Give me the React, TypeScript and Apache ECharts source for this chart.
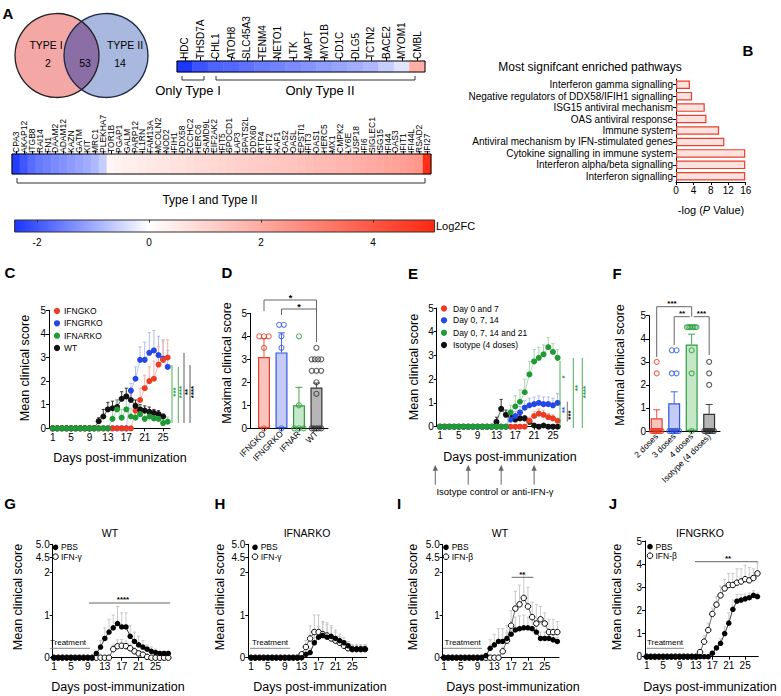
import React, { useEffect, useRef } from "react";
import * as echarts from "echarts";

const FONT = "'Liberation Sans', Arial, Helvetica, sans-serif";

/* ---------------- Panel A ---------------- */
const vennSets = ["TYPE I", "TYPE II"];
const vennCounts = [2, 53, 14];
const topGenes = ["HDC", "THSD7A", "CHL1", "ATOH8", "SLC45A3", "TENM4", "NETO1", "LTK", "MAPT", "MYO1B", "CD1C", "DLG5", "TCTN2", "BACE2", "MYOM1", "CMBL"];
const topLog2FC = [-2.4, -2.05, -1.85, -1.8, -1.68, -1.55, -1.48, -1.38, -1.28, -1.18, -1.08, -0.98, -0.85, -0.6, -0.32, 1.9];
const bottomGenes = ["CPA3", "AKAP12", "ITGB8", "RAI14", "FN1", "DAAM2", "ADAM12", "KAZN", "GATM", "KIT", "MRC1", "PLEKHA7", "TOR1B", "PGAP1", "GALM", "PARP12", "IL1RN", "FAM13A", "MCOLN2", "NOD2", "IFIH1", "DDX58", "ZCCHC2", "HERC6", "SAMD9L", "EIF2AK2", "IFIT5", "SPOCD1", "LAP3", "SPATS2L", "DDX60", "RTP4", "IFIT2", "XAF1", "OAS2", "OASL", "EPSTI1", "IFIT3", "OAS1", "HERC5", "MX1", "CMPK2", "LY6E", "USP18", "IFI6", "SIGLEC1", "ISG15", "IFI44", "OAS3", "IFIT1", "IFI44L", "RSAD2", "IFI27"];
const bottomLog2FC = [-2.3, -2.0, -1.75, -1.6, -1.5, -1.4, -1.3, -1.2, -1.1, -1.0, -0.85, -0.6,
  0.22, 0.3, 0.38, 0.41, 0.47, 0.52, 0.58, 0.61, 0.66, 0.72, 0.76, 0.83, 0.87, 0.93, 0.98, 1.02, 1.08, 1.12, 1.18, 1.22,
  1.27, 1.33, 1.38, 1.41, 1.47, 1.52, 1.58, 1.63, 1.66, 1.72, 1.78, 1.85, 1.93, 1.98, 2.06, 2.12, 2.2, 2.28, 2.36, 2.48, 4.95];
const colorbarTicks = [-2, 0, 2, 4];
const fcMin = -2.4;
const fcMax = 5.1;

/* ---------------- Panel B ---------------- */
const pathways = ["Interferon gamma signalling", "Negative regulators of DDX58/IFIH1 signalling", "ISG15 antiviral mechanism", "OAS antiviral response", "Immune system", "Antiviral mechanism by IFN-stimulated genes", "Cytokine signalling in immune system", "Interferon alpha/beta signalling", "Interferon signalling"];
const pathwayNegLogP = [3.2, 3.7, 6.6, 7.0, 9.9, 11.1, 15.9, 15.9, 15.9];

/* ---------------- Panel C ---------------- */
const daysC = [1, 2, 3, 4, 5, 6, 7, 8, 9, 10, 11, 12, 13, 14, 15, 16, 17, 18, 19, 20, 21, 22, 23, 24, 25, 26];
const dayTicks = [1, 5, 9, 13, 17, 21, 25];
const cNames = ["IFNGKO", "IFNGRKO", "IFNARKO", "WT"];
const cIFNGKO = [0, 0, 0, 0, 0, 0, 0, 0, 0, 0, 0, 0, 0, 0, 0, 0, 0, 0, 0.75, 1.2, 1.7, 2.0, 2.1, 2.7, 2.9, 3.0];
const cIFNGKOErr = [0, 0, 0, 0, 0, 0, 0, 0, 0, 0, 0, 0, 0, 0, 0, 0, 0, 0, 0.35, 0.5, 0.55, 0.6, 0.75, 0.75, 0.8, 0.75];
const cIFNGRKO = [0, 0, 0, 0, 0, 0, 0, 0, 0, 0, 0, 0, 0, 0, 0, 0, 0, 1.6, 2.1, 2.9, 2.9, 3.2, 3.3, 3.1, 2.95, 2.6];
const cIFNGRKOErr = [0, 0, 0, 0, 0, 0, 0, 0, 0, 0, 0, 0, 0, 0, 0, 0, 0, 0.3, 0.5, 0.55, 0.75, 0.85, 0.85, 0.8, 0.8, 0.7];
const cIFNARKO = [0, 0, 0, 0, 0, 0, 0, 0, 0, 0, 0, 0, 0, 0.4, 0.8, 0.45, 0.8, 0.5, 0.45, 0.6, 0.4, 0.5, 0.42, 0.4, 0.22, 0.28];
const cIFNARKOErr = [0, 0, 0, 0, 0, 0, 0, 0, 0, 0, 0, 0, 0, 0.35, 0.4, 0.35, 0.45, 0.35, 0.3, 0.35, 0.3, 0.3, 0.25, 0.25, 0.15, 0.2];
const cWT = [0, 0, 0, 0, 0, 0, 0, 0, 0, 0, 0.3, 0.5, 0.8, 0.85, 0.9, 1.25, 1.35, 1.2, 0.95, 0.8, 0.75, 0.7, 0.65, 0.6, 0.5, null];
const cWTErr = [0, 0, 0, 0, 0, 0, 0, 0, 0, 0, 0.15, 0.3, 0.3, 0.3, 0.3, 0.3, 0.35, 0.3, 0.25, 0.2, 0.2, 0.2, 0.15, 0.15, 0.1, 0];

/* ---------------- Panel D ---------------- */
const dGroups = ["IFNGKO", "IFNGRKO", "IFNAR", "WT"];
const dMeans = [3.1, 3.3, 1.0, 1.77];
const dErr = [0.8, 0.85, 0.78, 0.2];
const dPtsIFNGKO = [4, 4, 4, 3.5, 0];
const dPtsIFNGRKO = [4.5, 4.5, 4, 3.5, 0];
const dPtsIFNAR = [4, 1, 0, 0, 0];
const dPtsWT = [3.5, 3, 3, 3, 3, 2.5, 2.5, 2.5, 2, 1.5, 0, 0, 0, 0, 0];

/* ---------------- Panel E ---------------- */
const eNames = ["Day 0 and 7", "Day 0, 7, 14", "Day 0, 7, 14 and 21", "Isotype (4 doses)"];
const eDay07 = [0, 0, 0, 0, 0, 0, 0, 0, 0, 0, 0, 0, 0, 0, 0, 0, 0, 0, 0, 0.25, 0.45, 0.55, 0.5, 0.4, 0.35, 0.25];
const eDay07Err = [0, 0, 0, 0, 0, 0, 0, 0, 0, 0, 0, 0, 0, 0, 0, 0, 0, 0, 0, 0.15, 0.2, 0.2, 0.2, 0.15, 0.15, 0.1];
const eDay0714 = [0, 0, 0, 0, 0, 0, 0, 0, 0, 0, 0, 0, 0, 0, 0, 0.3, 0.45, 0.6, 0.8, 0.9, 0.95, 1.0, 0.95, 0.95, 0.9, 1.0];
const eDay0714Err = [0, 0, 0, 0, 0, 0, 0, 0, 0, 0, 0, 0, 0, 0, 0, 0.15, 0.2, 0.25, 0.3, 0.3, 0.3, 0.3, 0.3, 0.3, 0.3, 0.4];
const eDay071421 = [0, 0, 0, 0, 0, 0, 0, 0, 0, 0, 0, 0, 0, 0, 0, 0.6, 0.85, 1.05, 1.45, 2.2, 2.75, 2.9, 3.05, 3.35, 3.15, 2.9];
const eDay071421Err = [0, 0, 0, 0, 0, 0, 0, 0, 0, 0, 0, 0, 0, 0, 0, 0.3, 0.45, 0.5, 0.55, 0.55, 0.5, 0.45, 0.4, 0.4, 0.35, 0.35];
const eIsotype = [0, 0, 0, 0, 0, 0, 0, 0, 0, 0, 0, 0, 0.2, 0.75, 0.5, 0.4, 0.3, 0.35, 0.35, 0.2, 0.05, 0, 0.05, 0, 0, 0];
const eIsotypeErr = [0, 0, 0, 0, 0, 0, 0, 0, 0, 0, 0, 0, 0.2, 0.4, 0.2, 0.1, 0.1, 0.1, 0.1, 0.1, 0.05, 0, 0.05, 0, 0, 0];
const eTreatmentDays = [0, 7, 14, 21];

/* ---------------- Panel F ---------------- */
const fGroups = ["2 doses", "3 doses", "4 doses", "Isotype (4 doses)"];
const fMeans = [0.55, 1.2, 3.75, 0.75];
const fErr = [0.37, 0.5, 0.45, 0.4];
const fPts2 = [3, 2.5, 0, 0, 0, 0, 0, 0, 0, 0];
const fPts3 = [3.5, 3.5, 2.5, 2.5, 0, 0, 0, 0, 0, 0];
const fPts4 = [4.5, 4.5, 4.5, 4.5, 4.5, 4.5, 4.5, 3.5, 2.5, 0];
const fPtsIso = [3, 2.5, 2, 0, 0, 0, 0, 0, 0, 0];

/* ---------------- Panels G-J ---------------- */
const days28 = [1, 2, 3, 4, 5, 6, 7, 8, 9, 10, 11, 12, 13, 14, 15, 16, 17, 18, 19, 20, 21, 22, 23, 24, 25, 26, 27, 28];
const brokenTickValues = [0, 1, 2, 4.5, 5.0];
const brokenTickLabels = ["0", "1", "2", "4.5", "5.0"];
const gPBS = [0, 0, 0, 0, 0, 0, 0, 0, 0, 0, 0.1, 0.25, 0.45, 0.6, 0.7, 0.8, 0.72, 0.72, 0.5, 0.38, 0.3, 0.25, 0.2, 0.15, 0.12, 0.1, 0.1, 0.1];
const gPBSErr = [0, 0, 0, 0, 0, 0, 0, 0, 0, 0, 0.05, 0.15, 0.25, 0.3, 0.3, 0.4, 0.33, 0.33, 0.25, 0.22, 0.2, 0.15, 0.1, 0.1, 0.08, 0.05, 0.05, 0.05];
const gIFNg = [0, 0, 0, 0, 0, 0, 0, 0, 0, 0, 0, 0, 0, 0, 0.2, 0.27, 0.28, 0.27, 0.22, 0.15, 0.1, 0.07, 0.02, 0, 0, 0, 0, 0];
const gIFNgErr = [0, 0, 0, 0, 0, 0, 0, 0, 0, 0, 0, 0, 0, 0, 0.1, 0.15, 0.15, 0.12, 0.1, 0.08, 0.05, 0.05, 0, 0, 0, 0, 0, 0];
const hPBS = [0, 0, 0, 0, 0, 0, 0, 0, 0, 0, 0, 0, 0, 0.08, 0.12, 0.35, 0.48, 0.52, 0.48, 0.5, 0.45, 0.4, 0.35, 0.28, 0.2, 0.2, 0.2, 0.2];
const hPBSErr = [0, 0, 0, 0, 0, 0, 0, 0, 0, 0, 0, 0, 0, 0.05, 0.1, 0.2, 0.25, 0.3, 0.3, 0.25, 0.2, 0.15, 0.12, 0.1, 0.1, 0.1, 0.1, 0.1];
const hIFNg = [0, 0, 0, 0, 0, 0, 0, 0, 0, 0, 0, 0, 0.08, 0.25, 0.45, 0.6, 0.6, 0.55, 0.52, 0.45, 0.4, 0.35, 0.28, 0.22, 0.2, 0.2, 0.2, 0.2];
const hIFNgErr = [0, 0, 0, 0, 0, 0, 0, 0, 0, 0, 0, 0, 0.05, 0.15, 0.3, 0.4, 0.4, 0.3, 0.3, 0.25, 0.2, 0.15, 0.12, 0.1, 0.1, 0.1, 0.1, 0.1];
const iPBS = [0, 0, 0, 0, 0, 0, 0, 0, 0, 0, 0.05, 0.22, 0.3, 0.38, 0.38, 0.45, 0.55, 0.65, 0.68, 0.7, 0.7, 0.68, 0.6, 0.45, 0.45, 0.45, 0.42, 0.38];
const iPBSErr = [0, 0, 0, 0, 0, 0, 0, 0, 0, 0, 0.05, 0.2, 0.25, 0.3, 0.3, 0.3, 0.3, 0.3, 0.3, 0.3, 0.25, 0.2, 0.2, 0.15, 0.15, 0.12, 0.1, 0.1];
const iIFNb = [0, 0, 0, 0, 0, 0, 0, 0, 0, 0, 0, 0, 0, 0, 0.15, 0.4, 0.75, 1.15, 1.25, 1.4, 1.2, 0.95, 0.8, 0.9, 0.8, 0.6, 0.6, 0.6];
const iIFNbErr = [0, 0, 0, 0, 0, 0, 0, 0, 0, 0, 0, 0, 0, 0, 0.1, 0.2, 0.35, 0.4, 0.45, 0.55, 0.45, 0.35, 0.45, 0.3, 0.25, 0.3, 0.3, 0.25];
const jPBS = [0, 0, 0, 0, 0, 0, 0, 0, 0, 0, 0, 0, 0, 0, 0, 0, 0.15, 0.38, 0.58, 1.0, 1.45, 2.05, 2.4, 2.45, 2.5, 2.55, 2.65, 2.6];
const jPBSErr = [0, 0, 0, 0, 0, 0, 0, 0, 0, 0, 0, 0, 0, 0, 0, 0, 0.05, 0.1, 0.2, 0.3, 0.45, 0.4, 0.3, 0.25, 0.2, 0.2, 0.2, 0.15];
const jIFNb = [0, 0, 0, 0, 0, 0, 0, 0, 0, 0, 0, 0, 0, 0.2, 0.65, 1.15, 1.85, 2.25, 2.65, 2.95, 3.1, 3.1, 3.2, 3.25, 3.35, 3.3, 3.4, 3.6];
const jIFNbErr = [0, 0, 0, 0, 0, 0, 0, 0, 0, 0, 0, 0, 0, 0.1, 0.25, 0.3, 0.25, 0.35, 0.4, 0.4, 0.5, 0.5, 0.6, 0.55, 0.6, 0.55, 0.4, 0.45];

/* ---------------- styling helpers ---------------- */
const RED = "#ee3b24", BLUE = "#2348e6", GREEN = "#1f9a35", BLACK = "#111111";
const LRED = "#f5a89c", LBLUE = "#a9b6f0", LGREEN = "#9fd0a6";
const barFills = ["#f8c4be", "#c4ccf5", "#c6e7c8", "#b6b6b6"];
const barStrokes = ["#e8412c", "#3356e0", "#2c9d40", "#333333"];

const WHITE_RGB = [255, 255, 255];
const BLUE_RGB = [26, 54, 255];
const RED_RGB = [255, 40, 16];
function mix(a: number[], b: number[], t: number) {
  return "rgb(" + a.map((v, i) => Math.round(v + (b[i] - v) * t)).join(",") + ")";
}
function fcColor(v: number) {
  return v < 0 ? mix(WHITE_RGB, BLUE_RGB, Math.min(1, v / fcMin)) : mix(WHITE_RGB, RED_RGB, Math.min(1, v / fcMax));
}
const scaleStops: string[] = [];
for (let k = 0; k <= 25; k++) scaleStops.push(fcColor(fcMin + ((fcMax - fcMin) * k) / 25));

const lensPath = "M81.5 21.39 A42 42 0 0 1 81.5 89.61 A42 42 0 0 1 81.5 21.39 Z";
echarts.graphic.registerShape("vennLens", echarts.graphic.extendPath(lensPath, {}));

function brk(v: number) {
  return v <= 2 ? v : 2 + 0.351 + (v - 4.5) * 0.61;
}

const lab = (extra: any = {}) => ({ color: "#000", fontSize: 10, fontFamily: FONT, ...extra });
const aLine = { show: true, onZero: false, lineStyle: { color: "#000", width: 1 } };

function yVal(gi: number) {
  return { type: "value", gridIndex: gi, min: 0, max: 5, interval: 1, axisLine: aLine, axisTick: { show: true, length: 3, lineStyle: { color: "#000" } }, axisLabel: lab({ margin: 3 }), splitLine: { show: false } };
}
function yBroken(gi: number) {
  const pos = brokenTickValues.map(brk);
  return {
    type: "value", gridIndex: gi, min: 0, max: brk(5.0), axisLine: aLine,
    axisTick: { show: true, length: 3, customValues: pos, lineStyle: { color: "#000" } },
    axisLabel: lab({ margin: 3, customValues: pos, formatter: (v: number) => { const i = pos.findIndex((p) => Math.abs(p - v) < 1e-6); return i >= 0 ? brokenTickLabels[i] : ""; } }),
    splitLine: { show: false },
  };
}
function xDays(gi: number, min: number, max: number) {
  return { type: "value", gridIndex: gi, min, max, axisLine: aLine, axisTick: { show: true, length: 3, customValues: dayTicks, lineStyle: { color: "#000" } }, axisLabel: lab({ margin: 4, customValues: dayTicks }), splitLine: { show: false } };
}
function xGroups(gi: number, min: number, max: number, names: string[]) {
  const pos = names.map((_, i) => i);
  return { type: "value", gridIndex: gi, min, max, axisLine: aLine, axisTick: { show: true, length: 3, customValues: pos, lineStyle: { color: "#000" } }, axisLabel: lab({ fontSize: 8.5, margin: 4, rotate: 45, customValues: pos, formatter: (v: number) => names[Math.round(v)] }), splitLine: { show: false } };
}

function lineS(gi: number, days: number[], vals: (number | null)[], color: string, lineColor: string, z: number, open = false, size = 6) {
  const data: number[][] = [];
  days.forEach((d, i) => { const v = vals[i]; if (v != null) data.push([d, v]); });
  return {
    type: "line", xAxisIndex: gi, yAxisIndex: gi, data, z, symbol: "circle", symbolSize: size, showSymbol: true, showAllSymbol: true, silent: true,
    itemStyle: open ? { color: "#fff", borderColor: color, borderWidth: 1 } : { color },
    lineStyle: { color: lineColor, width: 0.8 }, emphasis: { disabled: true },
  };
}
function errS(gi: number, xs: number[], ys: (number | null)[], es: number[], color: any, cap = 1.6, z = 1) {
  const data: number[][] = [];
  xs.forEach((x, i) => { const y = ys[i]; const e = es[i]; if (y != null && e) data.push([x, y, e, i]); });
  return {
    type: "custom", xAxisIndex: gi, yAxisIndex: gi, z, silent: true, clip: false, data, encode: { x: 0, y: 1 },
    renderItem: (params: any, api: any) => {
      const x = api.value(0), y = api.value(1), e = api.value(2), idx = api.value(3);
      const p0 = api.coord([x, y]);
      const p1 = api.coord([x, y + e]);
      const col = typeof color === "function" ? color(idx) : color;
      return {
        type: "group", children: [
          { type: "line", shape: { x1: p0[0], y1: p0[1], x2: p1[0], y2: p1[1] }, style: { stroke: col, lineWidth: 0.9 } },
          { type: "line", shape: { x1: p1[0] - cap, y1: p1[1], x2: p1[0] + cap, y2: p1[1] }, style: { stroke: col, lineWidth: 0.9 } },
        ],
      };
    },
  };
}
function jitter(vals: number[], step = 0.27, span = 0.55) {
  const counts = new Map<number, number>();
  vals.forEach((v) => counts.set(v, (counts.get(v) || 0) + 1));
  const seen = new Map<number, number>();
  return vals.map((v) => {
    const n = counts.get(v) || 1;
    const j = seen.get(v) || 0;
    seen.set(v, j + 1);
    const s = n > 1 ? Math.min(step, span / (n - 1)) : 0;
    return (j - (n - 1) / 2) * s;
  });
}
function dotS(gi: number, idx: number, pts: number[], color: string) {
  const off = jitter(pts);
  return {
    type: "scatter", xAxisIndex: gi, yAxisIndex: gi, z: 5, silent: true, symbol: "circle", symbolSize: 5,
    itemStyle: { color: "rgba(255,255,255,0)", borderColor: color, borderWidth: 1.1 },
    data: pts.map((v, j) => [idx + off[j], v]),
  };
}
function barS(gi: number, means: number[]) {
  return {
    type: "bar", xAxisIndex: gi, yAxisIndex: gi, barWidth: 12, z: 2, silent: true,
    data: means.map((m, i) => ({ value: [i, m], itemStyle: { color: barFills[i], borderColor: barStrokes[i], borderWidth: 1.2 } })),
  };
}

/* graphic helpers */
function T(text: string, x: number, y: number, o: any = {}) {
  return {
    type: "text", x, y, rotation: o.rot || 0, z: 20, silent: true,
    style: {
      text, fill: o.color || "#000", fontSize: o.size || 10, fontFamily: FONT, fontWeight: o.bold ? "bold" : "normal", fontStyle: "normal",
      align: o.align || "center", verticalAlign: o.valign || "middle", textAlign: o.align || "center", textVerticalAlign: o.valign || "middle",
      rich: o.rich,
    },
  };
}
function PL(points: number[][], color = "#555", w = 1) {
  return { type: "polyline", z: 20, silent: true, shape: { points }, style: { stroke: color, lineWidth: w, fill: null } };
}
function CIR(cx: number, cy: number, r: number, fill: string, stroke = "none", w = 1) {
  return { type: "circle", z: 20, silent: true, shape: { cx, cy, r }, style: { fill, stroke, lineWidth: w } };
}
const ROT = Math.PI / 2;

export default function App() {
  const ref = useRef<HTMLDivElement>(null);
  useEffect(() => {
    if (!ref.current) return;
    const chart = echarts.init(ref.current, null, { renderer: "svg" });

    const grids = [
      { left: 177, top: 61, width: 248, height: 11 },
      { left: 12, top: 154, width: 419, height: 20 },
      { left: 14.6, top: 220, width: 420, height: 12 },
      { left: 676, top: 79, width: 69.7, height: 103 },
      { left: 49, top: 310.3, width: 121, height: 118 },
      { left: 250, top: 313.3, width: 78, height: 115 },
      { left: 436.7, top: 308, width: 123.3, height: 118.7 },
      { left: 649, top: 315.7, width: 71, height: 115.3 },
      { left: 52.7, top: 544.3, width: 117.3, height: 113.4 },
      { left: 248.3, top: 544.3, width: 118.4, height: 113.4 },
      { left: 442.7, top: 544.3, width: 116.3, height: 113.4 },
      { left: 645, top: 541, width: 113.3, height: 115.7 },
    ].map((g) => ({ ...g, containLabel: false, outerBoundsMode: "none" }));

    const xAxis: any[] = [
      { type: "category", gridIndex: 0, position: "top", data: topGenes, axisLine: { show: true, lineStyle: { color: "#000" } }, axisTick: { show: true, alignWithLabel: true, length: 4, lineStyle: { color: "#000" } }, axisLabel: lab({ rotate: -90, interval: 0, fontSize: 10, margin: 2 }) },
      { type: "category", gridIndex: 1, position: "top", data: bottomGenes, axisLine: { show: true, lineStyle: { color: "#000" } }, axisTick: { show: true, alignWithLabel: true, length: 3, lineStyle: { color: "#000" } }, axisLabel: lab({ rotate: -90, interval: 0, fontSize: 8.5, margin: 1 }) },
      { type: "value", gridIndex: 2, position: "bottom", min: fcMin, max: fcMax, axisLine: { show: false }, splitLine: { show: false }, axisTick: { show: false }, axisLabel: lab({ margin: 5, customValues: colorbarTicks }) },
      { type: "value", gridIndex: 3, min: 0, max: 16, interval: 4, axisLine: aLine, axisTick: { show: true, length: 3, lineStyle: { color: "#000" } }, axisLabel: lab({ margin: 3 }), splitLine: { show: false } },
      xDays(4, 0.2, 26.5),
      xGroups(5, -0.8, 3.66, dGroups),
      xDays(6, 0.3, 26.5),
      xGroups(7, -0.44, 3.62, fGroups),
      xDays(8, 0.7, 28.4),
      xDays(9, 0.36, 28.4),
      xDays(10, 0.7, 28.4),
      xDays(11, 0.59, 28.2),
      { type: "value", gridIndex: 2, position: "top", min: fcMin, max: fcMax, axisLine: { show: false }, splitLine: { show: false }, axisLabel: { show: false }, axisTick: { show: true, inside: true, length: 2.5, customValues: colorbarTicks, lineStyle: { color: "#333" } } },
    ];
    const yAxis: any[] = [
      { type: "category", gridIndex: 0, data: [""], show: false },
      { type: "category", gridIndex: 1, data: [""], show: false },
      { type: "value", gridIndex: 2, min: 0, max: 1, show: false },
      { type: "category", gridIndex: 3, data: pathways, inverse: true, axisLine: aLine, axisTick: { show: true, alignWithLabel: true, length: 3, lineStyle: { color: "#000" } }, axisLabel: lab({ margin: 3, interval: 0, fontSize: 10 }) },
      yVal(4), yVal(5), yVal(6), yVal(7),
      yBroken(8), yBroken(9), yBroken(10),
      yVal(11),
    ];

    const series: any[] = [
      { type: "heatmap", xAxisIndex: 0, yAxisIndex: 0, silent: true, data: topLog2FC.map((v, i) => [i, 0, v]), emphasis: { disabled: true } },
      { type: "heatmap", xAxisIndex: 1, yAxisIndex: 1, silent: true, data: bottomLog2FC.map((v, i) => [i, 0, v]), emphasis: { disabled: true } },
      { type: "bar", xAxisIndex: 3, yAxisIndex: 3, silent: true, data: pathwayNegLogP, barWidth: 8.5, itemStyle: { color: "#fde2df", borderColor: "#e8402a", borderWidth: 1.2 } },
      // C
      errS(4, daysC, cIFNGRKO, cIFNGRKOErr, LBLUE),
      errS(4, daysC, cIFNGKO, cIFNGKOErr, LRED),
      errS(4, daysC, cWT, cWTErr, "#222"),
      errS(4, daysC, cIFNARKO, cIFNARKOErr, LGREEN),
      lineS(4, daysC, cIFNGRKO, BLUE, LBLUE, 3),
      lineS(4, daysC, cIFNGKO, RED, LRED, 4),
      lineS(4, daysC, cWT, BLACK, "#333", 5),
      lineS(4, daysC, cIFNARKO, GREEN, LGREEN, 6),
      // D
      barS(5, dMeans),
      errS(5, [0, 1, 2, 3], dMeans, dErr, (i: number) => barStrokes[i], 3.5, 3),
      dotS(5, 0, dPtsIFNGKO, barStrokes[0]),
      dotS(5, 1, dPtsIFNGRKO, barStrokes[1]),
      dotS(5, 2, dPtsIFNAR, barStrokes[2]),
      dotS(5, 3, dPtsWT, barStrokes[3]),
      // E
      errS(6, daysC, eIsotype, eIsotypeErr, "#222"),
      errS(6, daysC, eDay07, eDay07Err, LRED),
      errS(6, daysC, eDay0714, eDay0714Err, LBLUE),
      errS(6, daysC, eDay071421, eDay071421Err, LGREEN),
      lineS(6, daysC, eIsotype, BLACK, "#333", 3),
      lineS(6, daysC, eDay07, RED, LRED, 4),
      lineS(6, daysC, eDay0714, BLUE, LBLUE, 5),
      lineS(6, daysC, eDay071421, GREEN, LGREEN, 6),
      {
        type: "custom", xAxisIndex: 6, yAxisIndex: 6, silent: true, clip: false, z: 5,
        data: eTreatmentDays.map((d) => [d, 0]), encode: { x: 0, y: 1 },
        renderItem: (params: any, api: any) => {
          const c = api.coord([api.value(0), 0]);
          const x = c[0], yb = c[1] + 58, yt = c[1] + 38;
          return {
            type: "group", children: [
              { type: "line", shape: { x1: x, y1: yb, x2: x, y2: yt + 5 }, style: { stroke: "#666", lineWidth: 1 } },
              { type: "polygon", shape: { points: [[x - 2.6, yt + 6], [x, yt], [x + 2.6, yt + 6]] }, style: { fill: "#666" } },
            ],
          };
        },
      },
      // F
      barS(7, fMeans),
      errS(7, [0, 1, 2, 3], fMeans, fErr, (i: number) => barStrokes[i], 3.5, 3),
      dotS(7, 0, fPts2, barStrokes[0]),
      dotS(7, 1, fPts3, barStrokes[1]),
      dotS(7, 2, fPts4, barStrokes[2]),
      dotS(7, 3, fPtsIso, barStrokes[3]),
      // G
      errS(8, days28, gPBS, gPBSErr, "#c4c4c4"),
      errS(8, days28, gIFNg, gIFNgErr, "#c4c4c4"),
      lineS(8, days28, gIFNg, "#000", "#444", 3, true, 5.5),
      lineS(8, days28, gPBS, "#000", "#000", 4, false, 5.5),
      // H
      errS(9, days28, hPBS, hPBSErr, "#c4c4c4"),
      errS(9, days28, hIFNg, hIFNgErr, "#c4c4c4"),
      lineS(9, days28, hIFNg, "#000", "#444", 3, true, 5.5),
      lineS(9, days28, hPBS, "#000", "#000", 4, false, 5.5),
      // I
      errS(10, days28, iPBS, iPBSErr, "#c4c4c4"),
      errS(10, days28, iIFNb, iIFNbErr, "#c4c4c4"),
      lineS(10, days28, iIFNb, "#000", "#444", 3, true, 5.5),
      lineS(10, days28, iPBS, "#000", "#000", 4, false, 5.5),
      // J
      errS(11, days28, jPBS, jPBSErr, "#c4c4c4"),
      errS(11, days28, jIFNb, jIFNbErr, "#c4c4c4"),
      lineS(11, days28, jIFNb, "#000", "#444", 3, true, 5.5),
      lineS(11, days28, jPBS, "#000", "#000", 4, false, 5.5),
    ];

    const gradStops = scaleStops.map((c, k) => ({ offset: k / 25, color: c }));
    const elements: any[] = [
      // panel letters
      T("A", 8, 13, { bold: true, size: 15 }), T("B", 748, 50, { bold: true, size: 15 }),
      T("C", 10, 272, { bold: true, size: 15 }), T("D", 227, 272, { bold: true, size: 15 }),
      T("E", 413, 273, { bold: true, size: 15 }), T("F", 617, 273, { bold: true, size: 15 }),
      T("G", 10, 503, { bold: true, size: 15 }), T("H", 220, 503, { bold: true, size: 15 }),
      T("I", 399, 503, { bold: true, size: 15 }), T("J", 613, 503, { bold: true, size: 15 }),
      // Venn
      CIR(57, 55.5, 42, "#f4a8a6"),
      CIR(106, 55.5, 42, "#a8b8de"),
      { type: "vennLens", z: 20, silent: true, style: { fill: "#8c6ea6" } },
      CIR(57, 55.5, 42, "none", "#222", 1.3),
      CIR(106, 55.5, 42, "none", "#1e2846", 1.3),
      T(vennSets[0], 46, 45, { size: 10.5 }), T(String(vennCounts[0]), 48, 63, { size: 10.5 }),
      T(String(vennCounts[1]), 85, 63, { size: 10.5 }),
      T(vennSets[1], 125, 45, { size: 10.5 }), T(String(vennCounts[2]), 120, 63, { size: 10.5 }),
      // heatmap outlines & brackets
      { type: "rect", z: 20, silent: true, shape: { x: 177, y: 61, width: 248, height: 11 }, style: { fill: null, stroke: "#000", lineWidth: 1 } },
      { type: "rect", z: 20, silent: true, shape: { x: 12, y: 154, width: 419, height: 20 }, style: { fill: null, stroke: "#000", lineWidth: 1 } },
      PL([[182, 76], [182, 80], [204, 80], [204, 76]], "#333"),
      PL([[216, 76], [216, 80], [415, 80], [415, 76]], "#333"),
      PL([[17, 178], [17, 183], [425, 183], [425, 178]], "#333"),
      T("Only Type I", 188, 90, { size: 13 }), T("Only Type II", 320, 90, { size: 13 }),
      T("Type I and Type II", 210, 200, { size: 12 }),
      // colorbar
      { type: "rect", z: -1, silent: true, shape: { x: 14.6, y: 220, width: 420, height: 12 }, style: { fill: new echarts.graphic.LinearGradient(0, 0, 1, 0, gradStops), stroke: "#333", lineWidth: 1 } },
      T("Log2FC", 436, 226, { size: 11, align: "left" }),
      // B
      T("Most signifcant enriched pathways", 590, 67, { size: 12 }),
      T("-log ({i|P} Value)", 711, 210, { size: 11, rich: { i: { fontStyle: "italic", fontSize: 11, fontFamily: FONT } } }),
      // C
      CIR(57, 311, 3.1, RED), CIR(57, 323.3, 3.1, BLUE), CIR(57, 335.7, 3.1, GREEN), CIR(57, 348, 3.1, BLACK),
      T(cNames[0], 64, 311, { size: 8.5, align: "left" }), T(cNames[1], 64, 323.3, { size: 8.5, align: "left" }),
      T(cNames[2], 64, 335.7, { size: 8.5, align: "left" }), T(cNames[3], 64, 348, { size: 8.5, align: "left" }),
      T("Mean clinical score", 25, 368, { size: 12.5, rot: ROT }),
      T("Days post-immunization", 120, 458, { size: 12.5 }),
      PL([[172, 365], [172, 423]], GREEN, 0.8), T("***", 175.6, 392, { size: 8, rot: ROT, color: GREEN, bold: true }),
      PL([[178.3, 367], [178.3, 423]], GREEN, 0.8), T("****", 181.8, 392, { size: 8, rot: ROT, color: GREEN, bold: true }),
      PL([[184, 353], [184, 423]], "#333", 0.8), T("**", 187.5, 392, { size: 8, rot: ROT, bold: true }),
      PL([[190, 365], [190, 423]], "#333", 0.8), T("****", 193.5, 392, { size: 8, rot: ROT, bold: true }),
      // D
      T("Maximal clinical score", 227, 363, { size: 12.5, rot: ROT }),
      PL([[264, 311], [264, 300], [316.5, 300], [316.5, 342]], "#666"),
      PL([[281.5, 315], [281.5, 309], [316.5, 309]], "#666"),
      T("*", 290.5, 298, { size: 9, bold: true }), T("*", 299, 307, { size: 9, bold: true }),
      // E
      CIR(444, 308.5, 3.1, RED), CIR(444, 320.3, 3.1, BLUE), CIR(444, 332.8, 3.1, GREEN), CIR(444, 345, 3.1, BLACK),
      T(eNames[0], 453, 308.5, { size: 8.5, align: "left" }), T(eNames[1], 453, 320.3, { size: 8.5, align: "left" }),
      T(eNames[2], 453, 332.8, { size: 8.5, align: "left" }), T(eNames[3], 453, 345, { size: 8.5, align: "left" }),
      T("Mean clinical score", 414, 367, { size: 12.5, rot: ROT }),
      T("Days post-immunization", 510, 457, { size: 12.5 }),
      T("Isotype control or anti-IFN-γ", 495, 491, { size: 9.5 }),
      PL([[560, 361], [560, 427]], GREEN, 0.8), T("*", 564, 377, { size: 8, rot: ROT, color: GREEN, bold: true }),
      T("**", 564, 410, { size: 8, rot: ROT, color: BLUE, bold: true }),
      PL([[567.3, 401.7], [567.3, 421.7]], "#555", 0.8), T("***", 570.7, 415, { size: 8, rot: ROT, bold: true }),
      PL([[573.3, 358], [573.3, 428]], GREEN, 0.8), T("**", 577.3, 388, { size: 8, rot: ROT, color: GREEN, bold: true }),
      PL([[582.3, 358], [582.3, 428]], GREEN, 0.8), T("****", 585.8, 392, { size: 8, rot: ROT, color: GREEN, bold: true }),
      // F
      T("Maximal clinical score", 620, 365, { size: 12.5, rot: ROT }),
      PL([[656.7, 357], [656.7, 306.7], [691.7, 306.7], [691.7, 316.7]], "#666"),
      PL([[674.2, 345], [674.2, 316.7], [689.7, 316.7]], "#666"),
      PL([[693.7, 316.7], [709.2, 316.7], [709.2, 355]], "#666"),
      T("***", 672, 303, { size: 8, bold: true }), T("**", 682, 313, { size: 8, bold: true }), T("***", 701.5, 313, { size: 8, bold: true }),
      // G
      T("WT", 110, 533, { size: 10.5 }),
      CIR(55.5, 547.3, 2.8, "#000"), CIR(55.5, 556.7, 2.8, "#fff", "#000", 1),
      T("PBS", 61, 547.3, { size: 8.5, align: "left" }), T("IFN-γ", 61, 556.7, { size: 8.5, align: "left" }),
      T("Mean clinical score", 18.3, 597, { size: 12.5, rot: ROT }),
      T("Days post-immunization", 118, 687, { size: 12.5 }),
      PL([[50, 648.3], [90, 648.3]], "#888"), T("Treatment", 68, 642.5, { size: 8 }),
      PL([[89, 603], [170, 603]], "#666"), T("****", 123, 599, { size: 8, bold: true }),
      // H
      T("IFNARKO", 307, 533, { size: 10.5 }),
      CIR(255, 547.3, 2.8, "#000"), CIR(255, 556.7, 2.8, "#fff", "#000", 1),
      T("PBS", 260.7, 547.3, { size: 8.5, align: "left" }), T("IFN-γ", 260.7, 556.7, { size: 8.5, align: "left" }),
      T("Mean clinical score", 220, 597, { size: 12.5, rot: ROT }),
      T("Days post-immunization", 320, 687, { size: 12.5 }),
      PL([[250, 648.3], [290, 648.3]], "#888"), T("Treatment", 270, 642.5, { size: 8 }),
      // I
      T("WT", 500, 533, { size: 10.5 }),
      CIR(446, 547.3, 2.8, "#000"), CIR(446, 556.7, 2.8, "#fff", "#000", 1),
      T("PBS", 451.7, 547.3, { size: 8.5, align: "left" }), T("IFN-β", 451.7, 556.7, { size: 8.5, align: "left" }),
      T("Mean clinical score", 413, 597, { size: 12.5, rot: ROT }),
      T("Days post-immunization", 513, 687, { size: 12.5 }),
      PL([[443, 648.3], [482, 648.3]], "#888"), T("Treatment", 462.7, 642.5, { size: 8 }),
      PL([[511.7, 577.3], [533.3, 577.3]], "#666"), T("**", 522.3, 574, { size: 8, bold: true }),
      // J
      T("IFNGRKO", 700, 533, { size: 10.5 }),
      CIR(650, 546.7, 2.8, "#000"), CIR(650, 555.7, 2.8, "#fff", "#000", 1),
      T("PBS", 655.5, 546.7, { size: 8.5, align: "left" }), T("IFN-β", 655.5, 555.7, { size: 8.5, align: "left" }),
      T("Mean clinical score", 616.7, 597, { size: 12.5, rot: ROT }),
      T("Days post-immunization", 710, 687, { size: 12.5 }),
      PL([[646.7, 648.3], [684, 648.3]], "#888"), T("Treatment", 665, 642.5, { size: 8 }),
      PL([[695, 561.7], [758, 561.7]], "#666"), T("**", 728, 558, { size: 8, bold: true }),
    ];

    chart.setOption({
      animation: false,
      backgroundColor: "#fff",
      textStyle: { fontFamily: FONT },
      grid: grids,
      xAxis,
      yAxis,
      visualMap: { type: "continuous", show: false, min: fcMin, max: fcMax, dimension: 2, seriesIndex: [0, 1], inRange: { color: scaleStops } },
      series,
      graphic: { elements },
    });
    return () => chart.dispose();
  }, []);
  return <div ref={ref} style={{ position: "absolute", left: 0, top: 0, width: 781, height: 696, background: "#fff" }} />;
}
